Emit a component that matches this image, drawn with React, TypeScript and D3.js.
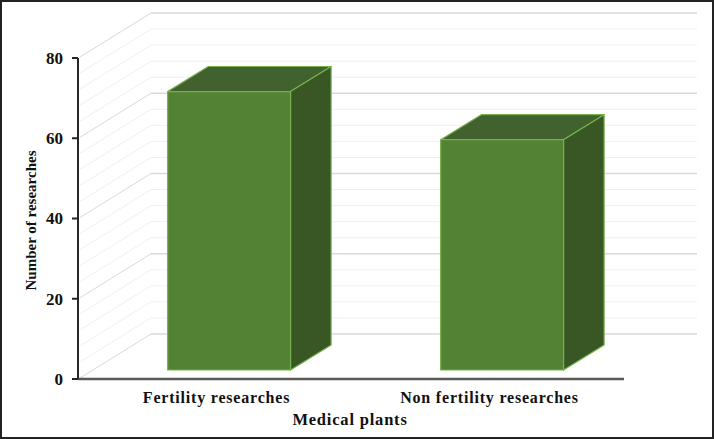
import * as React from 'react';
import * as d3 from 'd3';

const categories = ['Fertility researches', 'Non fertility researches'];
const researchCounts = [69.4, 57.4];
const majorTicks = [0, 20, 40, 60, 80];
const minorTicks = d3.range(0, 81, 4);

const dimensions = { width: 715, height: 439 };
const margin = { top: 58, left: 78, right: 91, bottom: 60 };
// oblique depth of the back wall, in pixels
const depth = { dx: 73, dy: 45 };
// bar sits between these fractions of the depth
const barFront = 0.2;
const barBack = 0.756;

const font = '"Liberation Serif", "Times New Roman", serif';

const colors = {
  front: '#548235',
  top: '#41622e',
  side: '#385724',
  edge: '#74b04c',
  gridMajor: '#d9d9d9',
  gridMinor: '#f0f0f0',
  axis: '#595959',
};

const App: React.FC = () => {
  const x = d3
    .scaleBand(categories, [margin.left, dimensions.width - margin.right])
    .paddingInner(0.55)
    .paddingOuter(0.275);
  const y = d3.scaleLinear([0, 80], [dimensions.height - margin.bottom, margin.top]);

  const x0 = margin.left;
  const x1 = dimensions.width - margin.right;
  const y0 = y(0);

  const bars = categories.map((c, i) => {
    const fx = depth.dx * barFront;
    const fy = depth.dy * barFront;
    const bx = depth.dx * barBack;
    const by = depth.dy * barBack;
    const left = (x(c) ?? 0) + fx;
    const right = left + x.bandwidth();
    const top = y(researchCounts[i]) - fy;
    const bottom = y0 - fy;
    const ddx = bx - fx;
    const ddy = by - fy;
    return { c, left, right, top, bottom, ddx, ddy };
  });

  return (
    <div style={{ position: 'fixed', left: 0, top: 0 }}>
      <svg
        width={dimensions.width}
        height={dimensions.height}
        viewBox={`0 0 ${dimensions.width} ${dimensions.height}`}
        style={{ display: 'block', background: '#fff' }}
      >
        {/* gridlines: side wall diagonals and back wall */}
        <g>
          {minorTicks.map((v) => {
            const major = v % 20 === 0;
            const stroke = major ? colors.gridMajor : colors.gridMinor;
            return (
              <g key={v}>
                <line
                  x1={x0 + 2}
                  y1={y(v) - 1}
                  x2={x0 + depth.dx}
                  y2={y(v) - depth.dy}
                  stroke={stroke}
                  strokeWidth={1}
                />
                <line
                  x1={x0 + depth.dx}
                  y1={y(v) - depth.dy}
                  x2={x1 + depth.dx}
                  y2={y(v) - depth.dy}
                  stroke={stroke}
                  strokeWidth={major ? 1.5 : 1}
                />
              </g>
            );
          })}
        </g>

        {/* bars */}
        <g stroke={colors.edge} strokeWidth={1.2} strokeLinejoin="round">
          {bars.map((b) => (
            <g key={b.c}>
              <polygon
                points={`${b.left},${b.top} ${b.left + b.ddx},${b.top - b.ddy} ${b.right + b.ddx},${b.top - b.ddy} ${b.right},${b.top}`}
                fill={colors.top}
              />
              <polygon
                points={`${b.right},${b.top} ${b.right + b.ddx},${b.top - b.ddy} ${b.right + b.ddx},${b.bottom - b.ddy} ${b.right},${b.bottom}`}
                fill={colors.side}
              />
              <rect
                x={b.left}
                y={b.top}
                width={b.right - b.left}
                height={b.bottom - b.top}
                fill={colors.front}
              />
            </g>
          ))}
        </g>

        {/* axes */}
        <line x1={x0} y1={y0} x2={x1} y2={y0} stroke={colors.axis} strokeWidth={2.5} />
        <line x1={x0} y1={y(80)} x2={x0} y2={y0} stroke="#262626" strokeWidth={2} />
        <g fontFamily={font} fontWeight="bold" fontSize={17} fill="#111">
          {majorTicks.map((v) => (
            <g key={v}>
              <line x1={x0 - 6} y1={y(v)} x2={x0} y2={y(v)} stroke="#262626" strokeWidth={2} />
              <text x={x0 - 15} y={y(v)} dy="0.35em" textAnchor="end">
                {v}
              </text>
            </g>
          ))}
        </g>

        <g fontFamily={font} fontWeight="bold" fontSize={16} fill="#111" letterSpacing={0.8}>
          {categories.map((c) => (
            <text key={c} x={(x(c) ?? 0) + x.bandwidth() / 2 + 2} y={403} textAnchor="middle">
              {c}
            </text>
          ))}
          <text x={350} y={425} textAnchor="middle" fontSize={16.5}>
            Medical plants
          </text>
        </g>

        <text
          transform={`translate(36, ${(y(0) + y(80)) / 2 + 2}) rotate(-90)`}
          textAnchor="middle"
          fontFamily={font}
          fontWeight="bold"
          fontSize={15}
          fill="#111"
        >
          Number of researches
        </text>

        {/* picture frame */}
        <rect
          x={1}
          y={1}
          width={dimensions.width - 3}
          height={dimensions.height - 2}
          fill="none"
          stroke="#222"
          strokeWidth={2}
        />
      </svg>
    </div>
  );
};

export default App;
